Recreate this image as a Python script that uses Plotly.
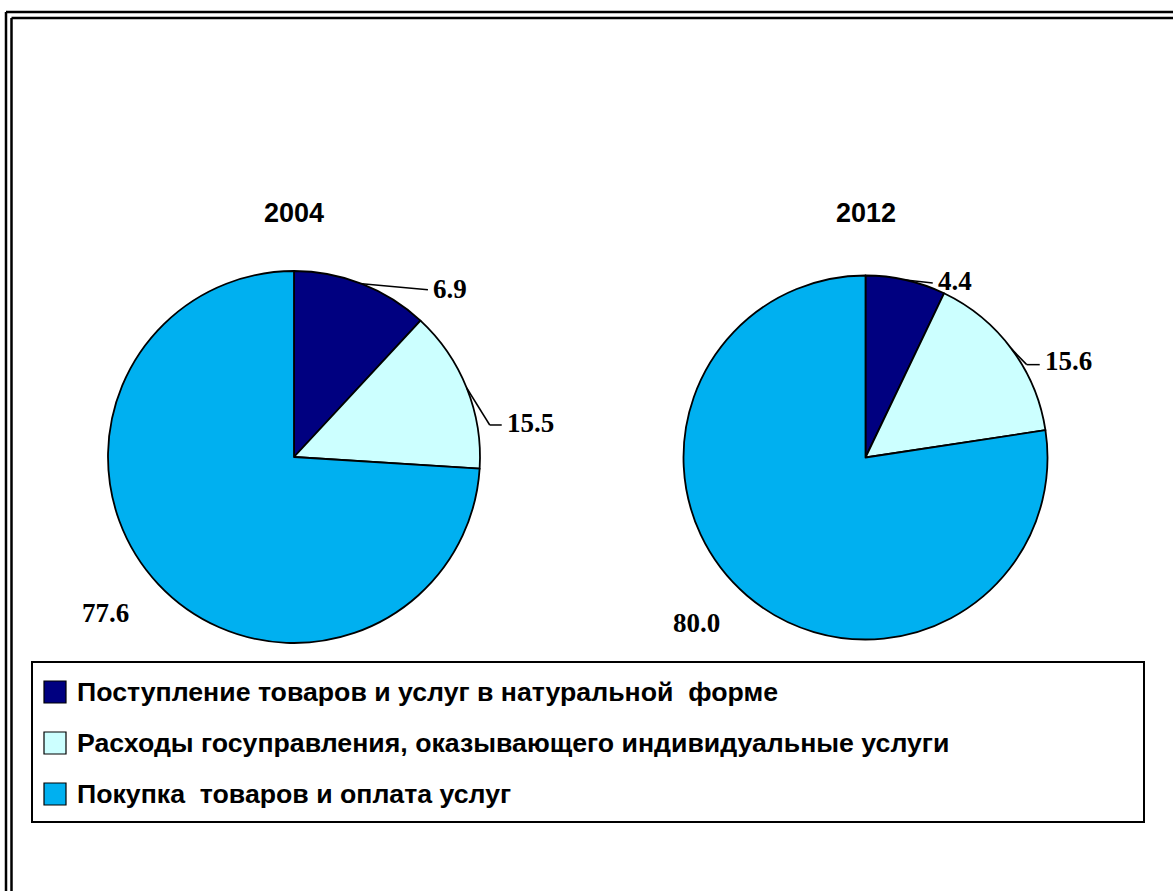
import math
import plotly.graph_objects as go

# ---------------- data ----------------
categories = [
    "Поступление товаров и услуг в натуральной  форме",
    "Расходы госуправления, оказывающего индивидуальные услуги",
    "Покупка  товаров и оплата услуг",
]
years = ["2004", "2012"]
# slice sizes as drawn in the picture (share of the circle, %)
shares_2004 = [11.9, 14.1, 74.0]
shares_2012 = [7.1, 15.5, 77.4]
# printed data labels
labels_2004 = ["6.9", "15.5", "77.6"]
labels_2012 = ["4.4", "15.6", "80.0"]
colors = ["#000080", "#CCFFFF", "#00B0F0"]

# ---------------- layout helpers ----------------
W, H = 1173, 891


def px(x):
    return x / W


def py(y):
    return 1 - y / H


# pie geometry (pixels): centre and radius
pie_geo = [dict(cx=294, cy=457, r=186), dict(cx=865.5, cy=457.5, r=182)]
# label placement styles per slice: leader (elbow offset, horizontal run, text dy) or free nudge
label_style = [
    [("leader", (66, 6), 0, -1), ("leader", (23, 37), 12, -2), ("free", (-53, 29))],
    [("leader", (27, 3), 0, -2), ("leader", (15, 15.5), 13, -4), ("free", (-50, 27))],
]

fig = go.Figure()
shapes = []
annotations = []

all_shares = [shares_2004, shares_2012]
all_labels = [labels_2004, labels_2012]

for k, (shares, labs) in enumerate(zip(all_shares, all_labels)):
    g = pie_geo[k]
    cx, cy, r = g["cx"], g["cy"], g["r"]
    fig.add_trace(go.Pie(
        labels=categories, values=shares, sort=False, direction="clockwise", rotation=0,
        marker=dict(colors=colors, line=dict(color="black", width=1.8)),
        textinfo="none", hoverinfo="label+value", showlegend=False,
        domain=dict(x=[px(cx - r), px(cx + r)], y=[py(cy + r), py(cy - r)]),
    ))
    # year title
    annotations.append(dict(
        x=px(cx), y=py(213), xref="paper", yref="paper", text=years[k], showarrow=False,
        xanchor="center", yanchor="middle",
        font=dict(family="Liberation Sans", size=27, color="black", weight="bold"),
    ))
    total = sum(shares)
    acc = 0.0
    for i, s in enumerate(shares):
        mid = (acc + s / 2) / total * 2 * math.pi
        acc += s
        ex = cx + r * math.sin(mid)
        ey = cy - r * math.cos(mid)
        st = label_style[k][i]
        if st[0] == "leader":
            (dx, dy), hx, tdy = st[1], st[2], st[3]
            bx, by = ex + dx, ey + dy
            shapes.append(dict(type="line", xref="paper", yref="paper",
                               x0=px(ex), y0=py(ey), x1=px(bx), y1=py(by),
                               line=dict(color="black", width=1.5)))
            if hx:
                shapes.append(dict(type="line", xref="paper", yref="paper",
                                   x0=px(bx), y0=py(by), x1=px(bx + hx), y1=py(by),
                                   line=dict(color="black", width=1.5)))
            tx, ty, anchor = bx + hx + 3, by + tdy, "left"
        else:
            dx, dy = st[1]
            tx, ty, anchor = ex + dx, ey + dy, "center"
        annotations.append(dict(
            x=px(tx), y=py(ty), xref="paper", yref="paper", text=labs[i], showarrow=False,
            xanchor=anchor, yanchor="middle",
            font=dict(family="Liberation Serif", size=27, color="black", weight="bold"),
        ))

# legend box
shapes.append(dict(type="rect", xref="paper", yref="paper",
                   x0=px(32), y0=py(822), x1=px(1144), y1=py(662),
                   line=dict(color="black", width=2), fillcolor="rgba(0,0,0,0)"))
leg_y = [692, 743, 794]
for i, cat in enumerate(categories):
    shapes.append(dict(type="rect", xref="paper", yref="paper",
                       x0=px(44), x1=px(66), y0=py(leg_y[i] + 11), y1=py(leg_y[i] - 11),
                       line=dict(color="black", width=1.2), fillcolor=colors[i]))
    annotations.append(dict(
        x=px(75), y=py(leg_y[i]), xref="paper", yref="paper",
        text=cat.replace("  ", " \u00a0"), showarrow=False, xanchor="left", yanchor="middle",
        font=dict(family="Liberation Sans", size=26.7, color="black", weight="bold"),
    ))

# double frame (top and left edges visible)
for (x, y) in [(6, 12), (11.5, 18)]:
    shapes.append(dict(type="line", xref="paper", yref="paper", x0=px(x), y0=py(y), x1=px(x), y1=py(H + 5),
                       line=dict(color="black", width=2.5)))
    shapes.append(dict(type="line", xref="paper", yref="paper", x0=px(x), y0=py(y), x1=px(W + 5), y1=py(y),
                       line=dict(color="black", width=2.5)))

fig.update_layout(
    width=W, height=H, margin=dict(l=0, r=0, t=0, b=0),
    paper_bgcolor="white", plot_bgcolor="white",
    shapes=shapes, annotations=annotations, showlegend=False,
)
fig.write_html("out.html", config={"displayModeBar": False},
               post_script="document.body.style.margin='0px';")
